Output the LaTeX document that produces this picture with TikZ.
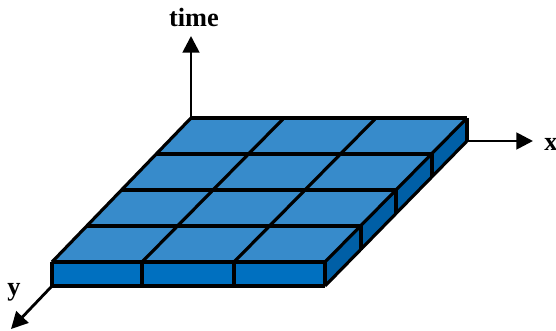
\documentclass[tikz,border=0pt]{standalone}
\usepackage{fontspec}
\setmainfont{Liberation Serif}
\usetikzlibrary{arrows.meta}
\definecolor{topblue}{HTML}{378BCB}
\definecolor{frontblue}{HTML}{0070C0}
\definecolor{sideblue}{HTML}{005FA6}

\begin{document}
\begin{tikzpicture}[x=0.02cm, y=-0.02cm, line width=1.8pt,
  straightline/.style={line width=1.95pt},
  axislabel/.style={font=\fontsize{15}{16}\selectfont\bfseries, inner sep=0pt},
  axisline/.style={-{Triangle[length=9.5pt,width=9.5pt]}, line width=1.6pt}]
\useasboundingbox (0,0) rectangle (556,331);
% corners of the slab
\coordinate (fl) at (52,262);
\coordinate (fr) at (325,262);
\coordinate (br) at (467,118);
\coordinate (bl) at (191,118);
\coordinate (flb) at (52,286);
\coordinate (frb) at (325,286);
\coordinate (brb) at (467,141);
% grid points
\coordinate (f1) at (142,262);
\coordinate (f2) at (234,262);
\coordinate (f1b) at (142,286);
\coordinate (f2b) at (234,286);
\coordinate (b1) at (284,118);
\coordinate (b2) at (376,118);
\coordinate (l1) at (87,226);
\coordinate (l2) at (122,190);
\coordinate (l3) at (157,154);
\coordinate (r1) at (361,226);
\coordinate (r2) at (396,190);
\coordinate (r3) at (432,154);
\coordinate (r1b) at (361,250);
\coordinate (r2b) at (396,214);
\coordinate (r3b) at (432,177);
% axis ends
\coordinate (ytip) at (11,329);
\coordinate (xtip) at (533,141);
\coordinate (ttip) at (191,36);
% axes
\draw[axisline] (bl) -- (ttip);
\draw[axisline] (brb) -- (xtip);
\draw[axisline] (flb) -- (ytip);
% faces
\fill[topblue] (fl) -- (fr) -- (br) -- (bl) -- cycle;
\fill[frontblue] (fl) -- (fr) -- (frb) -- (flb) -- cycle;
\fill[sideblue] (fr) -- (br) -- (brb) -- (frb) -- cycle;
% slanted edges
\draw (fl) -- (bl);
\draw (fr) -- (br);
\draw (frb) -- (brb);
\draw (f1) -- (b1);
\draw (f2) -- (b2);
% level and upright edges
\draw[straightline] (fl) -- (fr);
\draw[straightline] (bl) -- (br);
\draw[straightline] (flb) -- (frb);
\draw[straightline] (l1) -- (r1);
\draw[straightline] (l2) -- (r2);
\draw[straightline] (l3) -- (r3);
\draw[straightline] (fl) -- (flb);
\draw[straightline] (fr) -- (frb);
\draw[straightline] (br) -- (brb);
\draw[straightline] (f1) -- (f1b);
\draw[straightline] (f2) -- (f2b);
\draw[straightline] (r1) -- (r1b);
\draw[straightline] (r2) -- (r2b);
\draw[straightline] (r3) -- (r3b);
% labels
\node[axislabel] (timelabel) at (194,17) {time};
\node[axislabel] (xlabel) at (551,144) {x};
\node[axislabel] (ylabel) at (14,292) {y};
\end{tikzpicture}
\end{document}
